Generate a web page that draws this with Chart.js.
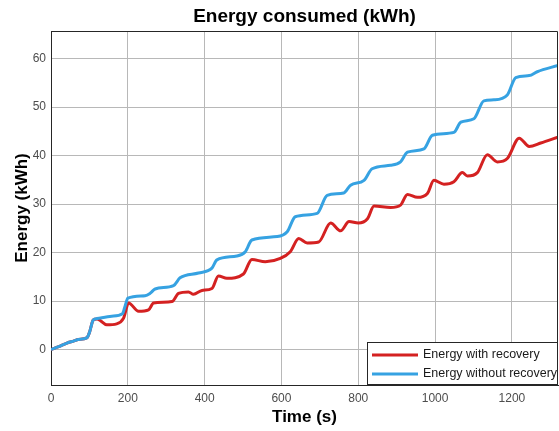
<!DOCTYPE html>
<html>
<head>
    <title>Energy consumed (kWh)</title>
    <script src="https://cdn.jsdelivr.net/npm/chart.js@4.4.0/dist/chart.umd.min.js"></script>
    <style>
        body { margin: 0; background: #fff; }
    </style>
</head>
<body>
    <canvas id="energyChart" width="559" height="431"></canvas>

    <script>
        // Values: time (s) -> energy (kWh)
        var timeWith = [0, 20, 40, 60, 71, 93, 100, 110, 120, 128, 145, 171, 189, 202, 228, 254, 267, 315, 332, 358, 371, 393, 419,
            436, 458, 501, 523, 558, 597, 623, 645, 667, 697, 728, 754, 776, 800, 824, 841, 884, 910, 928, 954, 980, 997,
            1023, 1049, 1071, 1084, 1110, 1136, 1162, 1188, 1219, 1245, 1275, 1320];
        var energyWith = [0, 0.6, 1.3, 1.8, 2.1, 2.4, 3.5, 6.1, 6.3, 6.0, 5.1, 5.3, 6.5, 9.6, 7.9, 8.2, 9.6, 9.9, 11.6, 11.9, 11.4, 12.2, 12.6,
            15.2, 14.7, 15.6, 18.6, 18.1, 18.8, 20.2, 22.9, 22.0, 22.2, 26.1, 24.5, 26.4, 26.1, 27.0, 29.6, 29.3, 29.8, 32.0, 31.4, 32.2, 34.9,
            34.1, 34.6, 36.5, 35.8, 36.5, 40.2, 38.7, 39.4, 43.6, 41.9, 42.6, 43.8];

        var timeWithout = [0, 20, 40, 60, 71, 93, 100, 110, 120, 158, 186, 193, 200, 245, 258, 271, 319, 336, 384, 419,
            432, 484, 506, 523, 589, 615, 636, 693, 719, 762, 780, 815, 836, 884, 910, 928, 971, 993,
            1049, 1067, 1101, 1127, 1153, 1188, 1210, 1245, 1266, 1320];
        var energyWithout = [0, 0.6, 1.3, 1.8, 2.1, 2.4, 3.5, 6.1, 6.4, 6.9, 7.4, 9.0, 10.6, 11.1, 11.6, 12.5, 13.2, 14.8, 15.8, 16.8,
            18.5, 19.3, 20.2, 22.6, 23.3, 24.3, 27.4, 28.1, 31.8, 32.3, 33.9, 34.9, 37.3, 38.0, 38.7, 40.7, 41.4, 44.2,
            44.8, 46.9, 47.6, 51.3, 51.5, 52.5, 56.1, 56.5, 57.3, 58.6];

        var xTicks = [0, 200, 400, 600, 800, 1000, 1200];
        var yTicks = [0, 10, 20, 30, 40, 50, 60];

        var labelFont = '"Liberation Sans", Arial, sans-serif';

        function toPoints(xs, ys) {
            return xs.map(function (x, i) { return { x: x, y: ys[i] }; });
        }

        // top and right edges of the axes box
        var frame = {
            id: 'frame',
            afterDatasetsDraw: function (chart) {
                var ctx = chart.ctx, a = chart.chartArea;
                ctx.save();
                ctx.strokeStyle = '#262626';
                ctx.lineWidth = 1;
                ctx.beginPath();
                ctx.moveTo(Math.round(a.left) + 0.5, Math.round(a.top) + 0.5);
                ctx.lineTo(Math.round(a.right) - 0.5, Math.round(a.top) + 0.5);
                ctx.lineTo(Math.round(a.right) - 0.5, Math.round(a.bottom));
                ctx.stroke();
                ctx.restore();
            }
        };

        // legend box in the lower right corner of the plot
        var boxLegend = {
            id: 'boxLegend',
            afterDraw: function (chart) {
                var ctx = chart.ctx, a = chart.chartArea;
                var w = 191, h = 43;
                var x = Math.round(a.right) - w, y = Math.round(a.bottom) - h;
                ctx.save();
                ctx.fillStyle = '#fff';
                ctx.fillRect(x, y, w, h);
                ctx.strokeStyle = '#262626';
                ctx.lineWidth = 1;
                ctx.strokeRect(x + 0.5, y + 0.5, w - 1, h - 1);
                ctx.font = '12.5px ' + labelFont;
                ctx.textBaseline = 'middle';
                chart.data.datasets.forEach(function (ds, i) {
                    var cy = y + 13 + i * 19;
                    ctx.strokeStyle = ds.borderColor;
                    ctx.lineWidth = 3;
                    ctx.beginPath();
                    ctx.moveTo(x + 5, cy);
                    ctx.lineTo(x + 51, cy);
                    ctx.stroke();
                    ctx.fillStyle = '#1a1a1a';
                    ctx.fillText(ds.label, x + 56, cy);
                });
                ctx.restore();
            }
        };

        function plainTick(value) { return String(value); }

        var ctx = document.getElementById('energyChart').getContext('2d');
        var chart = new Chart(ctx, {
            type: 'line',
            data: {
                datasets: [{
                    label: 'Energy with recovery',
                    data: toPoints(timeWith, energyWith),
                    borderColor: '#d42121',
                    borderWidth: 3,
                    pointRadius: 0,
                    cubicInterpolationMode: 'monotone',
                    order: 1
                }, {
                    label: 'Energy without recovery',
                    data: toPoints(timeWithout, energyWithout),
                    borderColor: '#36a2e2',
                    borderWidth: 3,
                    pointRadius: 0,
                    cubicInterpolationMode: 'monotone',
                    order: 0
                }]
            },
            options: {
                responsive: false,
                animation: false,
                layout: { padding: { right: 1 } },
                plugins: {
                    legend: { display: false },
                    tooltip: { enabled: false },
                    title: {
                        display: true,
                        text: 'Energy consumed (kWh)',
                        fullSize: false,
                        color: '#000',
                        font: { family: labelFont, size: 19, weight: 'bold', lineHeight: 1.2 },
                        padding: { top: 5.5, bottom: 2.7 }
                    }
                },
                scales: {
                    x: {
                        type: 'linear',
                        min: 0,
                        max: 1320,
                        afterBuildTicks: function (axis) {
                            axis.ticks = xTicks.map(function (v) { return { value: v }; });
                        },
                        afterFit: function (axis) { axis.height = 46; },
                        grid: { color: '#b8b8b8', drawTicks: false },
                        border: { color: '#262626' },
                        ticks: {
                            color: '#4d4d4d',
                            font: { family: labelFont, size: 12 },
                            padding: 6,
                            maxRotation: 0,
                            callback: plainTick
                        },
                        title: {
                            display: true,
                            text: 'Time (s)',
                            color: '#000',
                            font: { family: labelFont, size: 17, weight: 'bold', lineHeight: 1.2 },
                            padding: { top: 0, bottom: 3 }
                        }
                    },
                    y: {
                        min: -7.3,
                        max: 65.7,
                        afterBuildTicks: function (axis) {
                            axis.ticks = yTicks.map(function (v) { return { value: v }; });
                        },
                        afterFit: function (axis) { axis.width = 51; },
                        grid: { color: '#b8b8b8', drawTicks: false },
                        border: { color: '#262626' },
                        ticks: {
                            color: '#4d4d4d',
                            font: { family: labelFont, size: 12 },
                            padding: 5,
                            callback: plainTick
                        },
                        title: {
                            display: true,
                            text: 'Energy (kWh)',
                            color: '#000',
                            font: { family: labelFont, size: 17, weight: 'bold', lineHeight: 1.2 },
                            padding: { top: 12, bottom: 0 }
                        }
                    }
                }
            },
            plugins: [frame, boxLegend]
        });
    </script>
</body>
</html>
